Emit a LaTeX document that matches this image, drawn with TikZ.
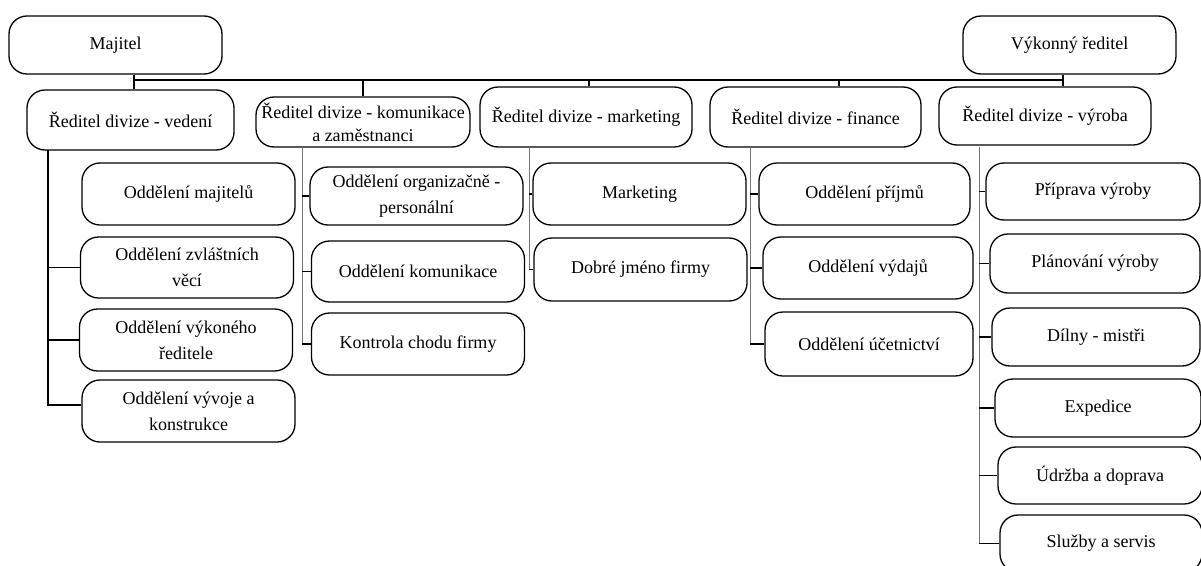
\documentclass[tikz,border=0pt]{standalone}
\usepackage{fontspec}
\setmainfont{Liberation Serif}
\usetikzlibrary{calc}
\begin{document}
\begin{tikzpicture}[x=1pt,y=-1pt,
  box/.style={draw=black, line width=1.3pt, rounded corners=18pt, inner sep=0pt,
    align=center, font=\fontsize{18}{26}\selectfont, fill=white},
  bw/.style={minimum width=213pt},
  bus/.style={draw=black, line width=1.3pt},
  thin/.style={draw=black!55, line width=0.8pt},
  stub/.style={draw=black, line width=1.2pt}]
\useasboundingbox (0,0) rectangle (1201,565);
\clip (0,0) rectangle (1201,565);
\fill[white] (0,0) rectangle (1201,565);

% top level
\node[box,bw,minimum height=58pt] (maj) at (115.5,45) {Majitel};
\node[box,bw,minimum height=58pt] (vyk) at (1069.5,45) {Výkonný ředitel};

% division directors
\node[box,minimum width=207pt,minimum height=60pt] (ved) at (130.5,120) {Ředitel divize - vedení};
\node[box,minimum width=214pt,minimum height=50pt] (kom) at (363,122) {Ředitel divize - komunikace\\[-3pt]a zaměstnanci};
\node[box,minimum width=212pt,minimum height=60pt] (mar) at (586,117) {Ředitel divize - marketing};
\node[box,minimum width=211pt,minimum height=60pt] (fin) at (815.5,117) {Ředitel divize - finance};
\node[box,minimum width=212pt,minimum height=58pt] (vyr) at (1045,116) {Ředitel divize - výroba};

% bus
\coordinate (busL) at (134,80);
\coordinate (busR) at (1063,80);
\draw[bus] (busL) -- (busR);
\draw[bus] (busL |- maj.south) -- (busL |- ved.north);
\draw[bus] (busR |- vyk.south) -- (busR |- vyr.north);
\draw[bus] (busL -| kom.north) -- (kom.north);
\draw[bus] (busL -| 589,0) -- (589,0 |- mar.north);
\draw[bus] (busL -| 839,0) -- (839,0 |- fin.north);

% column 1
\node[box,bw,minimum height=62pt] (c1a) at (188.5,194) {Oddělení majitelů};
\node[box,bw,minimum height=61pt] (c1b) at (187,267.5) {Oddělení zvláštních\\věcí};
\node[box,bw,minimum height=62pt] (c1c) at (186,340) {Oddělení výkoného\\ředitele};
\node[box,bw,minimum height=62pt] (c1d) at (188.5,411) {Oddělení vývoje a\\konstrukce};
\coordinate (v1) at (48,150);
\draw[stub] (v1) |- ([yshift=6pt]c1d.west);
\draw[stub] (v1 |- c1b.west) -- (c1b.west);
\draw[stub] (v1 |- c1c.west) -- (c1c.west);

% column 2
\node[box,bw,minimum height=58pt] (c2a) at (416.5,196) {Oddělení organizačně -\\personální};
\node[box,bw,minimum height=61pt] (c2b) at (418,271.5) {Oddělení komunikace};
\node[box,bw,minimum height=62pt] (c2c) at (418,344) {Kontrola chodu firmy};
\coordinate (v2) at (302,147);
\draw[thin] (v2) -- (v2 |- c2c.west);
\draw[stub] (v2 |- c2a.west) -- (c2a.west);
\draw[stub] (v2 |- c2b.west) -- (c2b.west);
\draw[stub] (v2 |- c2c.west) -- (c2c.west);

% column 3
\node[box,bw,minimum height=62pt] (c3a) at (639.5,194) {Marketing};
\node[box,bw,minimum height=63pt] (c3b) at (640.5,269.5) {Dobré jméno firmy};
\coordinate (v3) at (529,147);
\draw[thin] (v3) -- (v3 |- c3b.west);
\draw[stub] (v3 |- c3a.west) -- (c3a.west);
\draw[stub] (v3 |- c3b.west) -- (c3b.west);

% column 4
\node[box,minimum width=211pt,minimum height=62pt] (c4a) at (864.5,194) {Oddělení příjmů};
\node[box,minimum width=210pt,minimum height=62pt] (c4b) at (868,268) {Oddělení výdajů};
\node[box,minimum width=208pt,minimum height=64pt] (c4c) at (869,344) {Oddělení účetnictví};
\coordinate (v4) at (750,147);
\draw[thin] (v4) -- (v4 |- c4c.west);
\draw[stub] (v4 |- c4a.west) -- (c4a.west);
\draw[stub] (v4 |- c4b.west) -- (c4b.west);
\draw[stub] (v4 |- c4c.west) -- (c4c.west);

% column 5
\node[box,minimum width=214pt,minimum height=57pt] (c5a) at (1093,191.5) {Příprava výroby};
\node[box,minimum width=210pt,minimum height=59pt] (c5b) at (1095,263.5) {Plánování výroby};
\node[box,minimum width=208pt,minimum height=58pt] (c5c) at (1096,337) {Dílny - mistři};
\node[box,minimum width=206pt,minimum height=58pt] (c5d) at (1098,408) {Expedice};
\node[box,minimum width=204pt,minimum height=57pt] (c5e) at (1100,475.5) {Údržba a doprava};
\node[box,minimum width=202pt,minimum height=57pt] (c5f) at (1101,543.5) {Služby a servis};
\coordinate (v5) at (979,147);
\draw[thin] (v5) -- (v5 |- c5f.west);
\draw[stub] (v5 |- c5a.west) -- (c5a.west);
\draw[stub] (v5 |- c5b.west) -- (c5b.west);
\draw[stub] (v5 |- c5c.west) -- (c5c.west);
\draw[stub] (v5 |- c5d.west) -- (c5d.west);
\draw[stub] (v5 |- c5e.west) -- (c5e.west);
\draw[stub] (v5 |- c5f.west) -- (c5f.west);
\end{tikzpicture}
\end{document}
